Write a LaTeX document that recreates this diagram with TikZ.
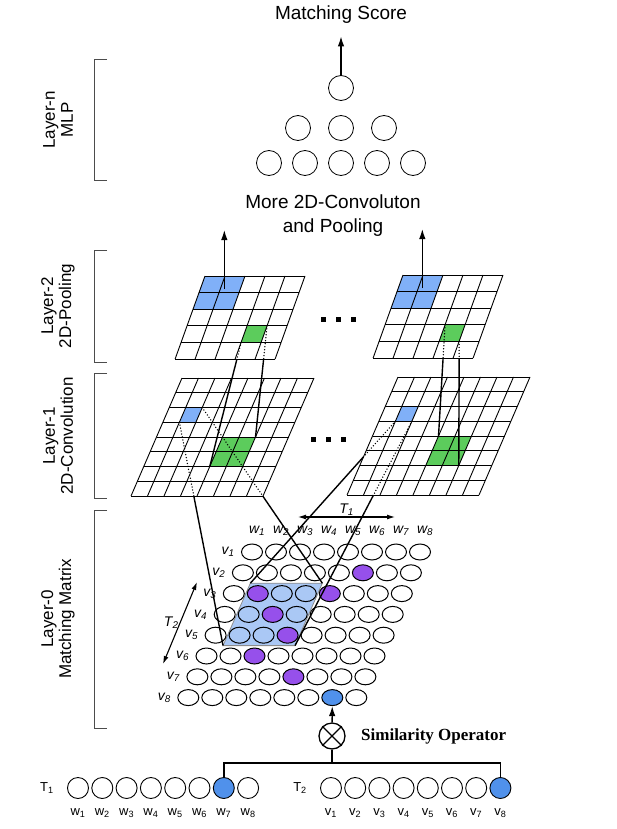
\documentclass[tikz,border=0pt]{standalone}
\usepackage{fontspec}
\setmainfont{Liberation Sans}
\newfontfamily\opfont{Liberation Serif}
\usepackage{xcolor}
\usetikzlibrary{shapes.geometric,arrows.meta,positioning}

\definecolor{cellblue}{RGB}{128,176,248}
\definecolor{cellgreen}{RGB}{92,204,92}
\definecolor{mpurple}{RGB}{150,80,235}
\definecolor{mblue}{RGB}{80,145,235}
\definecolor{mlight}{RGB}{170,200,245}

\tikzset{
  unit/.style={draw=black, fill=white, shape=circle, minimum size=25pt, inner sep=0pt, line width=0.8pt},
  word/.style={draw=black, shape=circle, minimum size=21pt, inner sep=0pt, line width=0.9pt},
  entry/.style={draw=black, shape=ellipse, minimum width=21pt, minimum height=16pt, inner sep=0pt, line width=1pt},
  gridline/.style={line width=0.9pt},
  link/.style={line width=1.4pt},
  dotlink/.style={line width=1.5pt, line cap=round, dash pattern=on 0pt off 3pt},
  layerbrace/.style={draw=black!70, line width=1pt},
  uparrow/.style={-{Latex[length=10pt,width=6.5pt]}, line width=1.3pt},
  twoway/.style={{Latex[length=8pt,width=5pt]}-{Latex[length=8pt,width=5pt]}, line width=1.1pt},
  title/.style={font=\fontsize{19}{24}\selectfont, align=center},
  layername/.style={font=\fontsize{17}{18}\selectfont, rotate=90, align=center},
  idx/.style={font=\fontsize{14}{15}\selectfont\itshape, inner sep=1pt},
  seqlab/.style={font=\fontsize{13}{14}\selectfont, inner sep=1pt},
}

\begin{document}
\begin{tikzpicture}[x=1pt, y=-1pt]
\useasboundingbox (0,0) rectangle (616,829);

% layer n: mlp
\node[title] (score) at (341,15) {Matching Score};
\node[unit] (n1) at (341,88) {};
\foreach \x [count=\i] in {298,341,384}
  \node[unit] (h\i) at (\x,128) {};
\foreach \x [count=\i] in {269,305,341,377,413}
  \node[unit] (i\i) at (\x,163) {};
\draw[uparrow, shorten >=9pt] (n1) -- (score);

\node[title] (more) at (333,216) {More 2D-Convoluton\\and Pooling};

% brackets and layer names
\draw[layerbrace] (107,60) -- (94,60) -- (94,181) -- (107,181);
\draw[layerbrace] (107,250) -- (94,250) -- (94,362) -- (107,362);
\draw[layerbrace] (107,373) -- (94,373) -- (94,498) -- (107,498);
\draw[layerbrace] (107,510) -- (94,510) -- (94,728) -- (107,728);
\node[layername] (ln) at (58,120) {Layer-n\\MLP};
\node[layername] (l2) at (58,306) {Layer-2\\2D-Pooling};
\node[layername] (l1) at (58,436) {Layer-1\\2D-Convolution};
\node[layername] (l0) at (58,619) {Layer-0\\Matching Matrix};

% layer 1: convolution grids
\foreach \gx/\gy/\nm in {182/378/c1, 398/377/c2} {
  \begin{scope}[shift={(\gx,\gy)}, xslant=0.432]
    \fill[cellblue] (16.5,29.5) rectangle (33,44.25);
    \fill[cellgreen] (66,59) rectangle (99,88.5);
    \foreach \i in {0,...,8} {
      \draw[gridline] (0,\i*14.75) -- (132,\i*14.75);
      \draw[gridline] (\i*16.5,0) -- (\i*16.5,118);
    }
    \coordinate (\nm-tl) at (0,0);
    \coordinate (\nm-bl) at (0,118);
    \coordinate (\nm-br) at (132,118);
    \coordinate (\nm-bbl) at (16.5,44.25);
    \coordinate (\nm-bbr) at (33,44.25);
    \coordinate (\nm-btr) at (33,29.5);
    \coordinate (\nm-gtl) at (66,59);
    \coordinate (\nm-gtr) at (99,59);
    \coordinate (\nm-gbl) at (66,88.5);
    \coordinate (\nm-gbr) at (99,88.5);
  \end{scope}
}
\foreach \x in {313,328,343}
  \fill (\x-2.5,436.5) rectangle ++(5,5);

% layer 2: pooling grids
\foreach \gx/\gy/\nm in {205/276/p1, 403/275/p2} {
  \begin{scope}[shift={(\gx,\gy)}, xslant=0.36]
    \fill[cellblue] (0,0) rectangle (40,33.2);
    \fill[cellgreen] (60,49.8) rectangle (80,66.4);
    \foreach \i in {0,...,5} {
      \draw[gridline] (0,\i*16.6) -- (100,\i*16.6);
      \draw[gridline] (\i*20,0) -- (\i*20,83);
    }
    \coordinate (\nm-bl) at (0,83);
    \coordinate (\nm-br) at (100,83);
    \coordinate (\nm-up) at (24,13);
    \coordinate (\nm-gtl) at (60,49.8);
    \coordinate (\nm-gtr) at (80,49.8);
    \coordinate (\nm-gbl) at (60,66.4);
    \coordinate (\nm-gbr) at (80,66.4);
  \end{scope}
  \draw[uparrow] (\nm-up) -- ++(0,-59);
}
\foreach \x in {323,338,353}
  \fill (\x-2.5,316.5) rectangle ++(5,5);

% pooling -> convolution
\coordinate (k1) at (intersection of p1-gtr--c1-gtr and p1-bl--p1-br);
\coordinate (k2) at (intersection of p1-gbl--c1-gbl and p1-bl--p1-br);
\coordinate (k3) at (intersection of p2-gtl--c2-gtl and p2-bl--p2-br);
\coordinate (k4) at (intersection of p2-gbr--c2-gbr and p2-bl--p2-br);
\draw[dotlink] (p1-gtr) -- (k1);  \draw[link] (k1) -- (c1-gtr);
\draw[dotlink] (p1-gbl) -- (k2);  \draw[link] (k2) -- (c1-gbl);
\draw[dotlink] (p2-gtl) -- (k3);  \draw[link] (k3) -- (c2-gtl);
\draw[dotlink] (p2-gbr) -- (k4);  \draw[link] (k4) -- (c2-gbr);

% layer 0: matching matrix
\begin{scope}[shift={(252,552)}, xslant=0.4375]
  \filldraw[fill=mlight, draw=black!45, line width=0.8pt] (12,31.2) rectangle (84,93.6);
  \coordinate (rg-tl) at (12,31.2);
  \coordinate (rg-tr) at (84,31.2);
  \coordinate (rg-bl) at (12,93.6);
  \coordinate (rg-br) at (84,93.6);
  \foreach \r/\cols in {
      1/{white,white,white,white,white,white,white,white},
      2/{white,white,white,white,white,mpurple,white,white},
      3/{white,mpurple,mlight,mlight,mpurple,white,white,white},
      4/{white,mlight,mpurple,mlight,white,white,white,white},
      5/{white,mlight,mlight,mpurple,white,white,white,white},
      6/{white,white,mpurple,white,white,white,white,white},
      7/{white,white,white,white,mpurple,white,white,white},
      8/{white,white,white,white,white,white,mblue,white}}
    \foreach \fc [count=\c] in \cols
      \node[entry, fill=\fc] (m-\r-\c) at ({24*(\c-1)},{20.8*(\r-1)}) {};
  \foreach \r in {1,...,8}
    \node[idx] (v\r) at (-24,{20.8*(\r-1)}) {v\textsubscript{\r}};
  \foreach \c in {1,...,8}
    \node[idx] (w\c) at ({24*(\c-1)-4},-20.8) {w\textsubscript{\c}};
\end{scope}

\coordinate (t1a) at (298,517);
\coordinate (t1b) at (395,517);
\draw[twoway] (t1a) -- (t1b) node[midway, above, idx] {T\textsubscript{1}};
\coordinate (t2a) at (197,582);
\coordinate (t2b) at (163,664);
\draw[twoway] (t2a) -- (t2b) node[midway, left, idx] {T\textsubscript{2}};

% convolution -> matching matrix
\coordinate (e1) at (intersection of c1-bbl--rg-bl and c1-bl--c1-br);
\coordinate (e2) at (intersection of c1-btr--rg-tr and c1-bl--c1-br);
\coordinate (e3) at (intersection of c2-bbl--rg-tl and c2-tl--c2-bl);
\coordinate (e4) at (intersection of c2-bbr--rg-br and c2-bl--c2-br);
\draw[dotlink] (c1-bbl) -- (e1);  \draw[link] (e1) -- (rg-bl);
\draw[dotlink] (c1-btr) -- (e2);  \draw[link] (e2) -- (rg-tr);
\draw[dotlink] (c2-bbl) -- (e3);  \draw[link] (e3) -- (rg-tl);
\draw[dotlink] (c2-bbr) -- (e4);  \draw[link] (e4) -- (rg-br);

% input sequences
\node[seqlab] (T1) at (47,788) {T\textsubscript{1}};
\node[seqlab] (T2) at (300,788) {T\textsubscript{2}};
\foreach \i/\fc in {1/white,2/white,3/white,4/white,5/white,6/white,7/mblue,8/white} {
  \node[word, fill=\fc] (a\i) at ({78+24.3*(\i-1)},788) {};
  \node[seqlab] (aw\i) at ({78+24.3*(\i-1)},813) {w\textsubscript{\i}};
}
\foreach \i/\fc in {1/white,2/white,3/white,4/white,5/white,6/white,7/white,8/mblue} {
  \node[word, fill=\fc] (b\i) at ({331+24.2*(\i-1)},788) {};
  \node[seqlab] (bv\i) at ({331+24.2*(\i-1)},813) {v\textsubscript{\i}};
}

% similarity operator
\node[word, minimum size=26pt, line width=1.3pt] (sim) at (332,736) {};
\draw[line width=1.3pt] (sim.north west) -- (sim.south east) (sim.north east) -- (sim.south west);
\node[right=12pt of sim, font=\opfont\bfseries\fontsize{17}{20}\selectfont] (simlab) {Similarity Operator};
\coordinate (fork) at (332,763);
\draw[link] (sim) -- (fork);
\draw[link] (a7.north) |- (fork) -| (b8.north);
\draw[uparrow] (sim) -- (m-8-7);
\end{tikzpicture}
\end{document}
